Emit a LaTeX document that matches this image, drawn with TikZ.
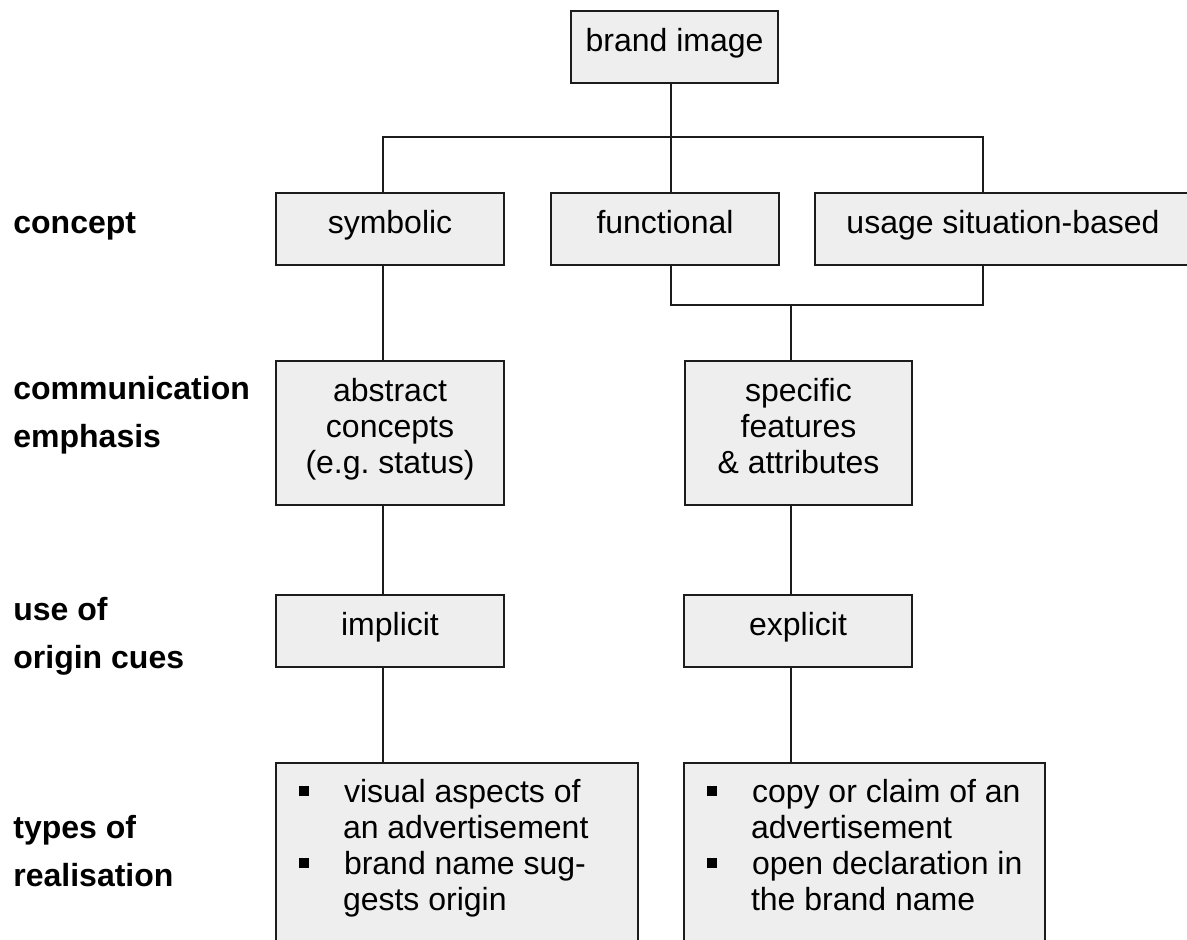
\documentclass[tikz,border=0pt]{standalone}
\usepackage{fontspec}
\setmainfont{Liberation Sans}
\usetikzlibrary{positioning}
\definecolor{boxFill}{RGB}{238,238,238}
\definecolor{lineColor}{RGB}{28,28,28}
\tikzstyle{chart} = [x = .5pt, y = -.5pt]
\tikzstyle{boxStyle} = [draw=lineColor, fill=boxFill, line width=1pt, inner sep=0pt, anchor=north west, align=center, font=\fontsize{16}{18}\selectfont]
\tikzstyle{oneLine} = [text height=11.5pt, text depth=7pt]
\tikzstyle{levelText} = [anchor=base west, inner sep=0pt, font=\fontsize{16}{18}\selectfont\bfseries]
\tikzstyle{link} = [draw=lineColor, line width=1pt]
\newcommand{\conceptBox}[6]{\node [boxStyle, oneLine, minimum width=#4*.5pt, minimum height=#5*.5pt] (#1) at (#2,#3) {#6};}
\newcommand{\stackBox}[6]{\node [boxStyle] (#1) at (#2,#3)
  {\parbox[c][\dimexpr #5pt/2\relax][t]{\dimexpr #4pt/2\relax}{\centering\vspace*{7.65pt}\strut #6}};}
\newcommand{\bulletItem}{\hspace*{11.5pt}\rule[2.8pt]{5pt}{5pt}\hspace{17.5pt}}
\newcommand{\hangLine}{\hspace*{33.5pt}}
\newcommand{\listBox}[5]{\node [boxStyle, align=left] (#1) at (#2,#3)
  {\parbox[c][100pt][t]{\dimexpr #4pt/2\relax}{\raggedright\vspace*{6.9pt}\strut #5}};}

\begin{document}
\begin{tikzpicture}[chart]
  \fill [white] (0,0) rectangle (1187,940);
  \useasboundingbox (0,0) rectangle (1187,940);
  \clip (0,0) rectangle (1187,940);

  % levels
  \node [levelText] (concept) at (13,234) {concept};
  \node [levelText] (commA) at (13,400) {communication};
  \node [levelText] (commB) at (13,448) {emphasis};
  \node [levelText] (originA) at (13,620) {use of};
  \node [levelText] (originB) at (13,668) {origin cues};
  \node [levelText] (typesA) at (13,838) {types of};
  \node [levelText] (typesB) at (13,886) {realisation};

  % boxes
  \conceptBox{brand}{570}{10}{207}{72}{brand image}
  \conceptBox{symbolic}{275}{192}{228}{72}{symbolic}
  \conceptBox{functional}{550}{192}{228}{72}{functional}
  \conceptBox{usage}{814}{192}{376}{72}{usage situation-based}
  \stackBox{abstract}{275}{360}{228}{144}{abstract\\concepts\\(e.g.\ status)}
  \stackBox{specific}{684}{360}{227}{144}{specific\\features\\\& attributes}
  \conceptBox{implicit}{275}{594}{228}{72}{implicit}
  \conceptBox{explicit}{683}{594}{228}{72}{explicit}
  \listBox{leftList}{275}{762}{362}{\bulletItem visual aspects of\\
    \hangLine an advertisement\\
    \bulletItem brand name sug-\\
    \hangLine gests origin}
  \listBox{rightList}{683}{762}{361}{\bulletItem copy or claim of an\\
    \hangLine advertisement\\
    \bulletItem open declaration in\\
    \hangLine the brand name}

  % connectors
  \coordinate (busLeft) at (383,137);
  \coordinate (busMid) at (671,137);
  \coordinate (busRight) at (983,137);
  \coordinate (joinLeft) at (671,305);
  \coordinate (joinMid) at (791,305);
  \coordinate (joinRight) at (983,305);

  \draw [link] (busMid |- brand.south) -- (busMid);
  \draw [link] (busLeft |- symbolic.north) -- (busLeft) -- (busRight) -- (busRight |- usage.north);
  \draw [link] (busMid) -- (busMid |- functional.north);
  \draw [link] (joinLeft |- functional.south) -- (joinLeft) -- (joinRight) -- (joinRight |- usage.south);
  \draw [link] (joinMid) -- (joinMid |- specific.north);
  \draw [link] (busLeft |- symbolic.south) -- (busLeft |- abstract.north);
  \draw [link] (busLeft |- abstract.south) -- (busLeft |- implicit.north);
  \draw [link] (busLeft |- implicit.south) -- (busLeft |- leftList.north);
  \draw [link] (joinMid |- specific.south) -- (joinMid |- explicit.north);
  \draw [link] (joinMid |- explicit.south) -- (joinMid |- rightList.north);
\end{tikzpicture}
\end{document}
